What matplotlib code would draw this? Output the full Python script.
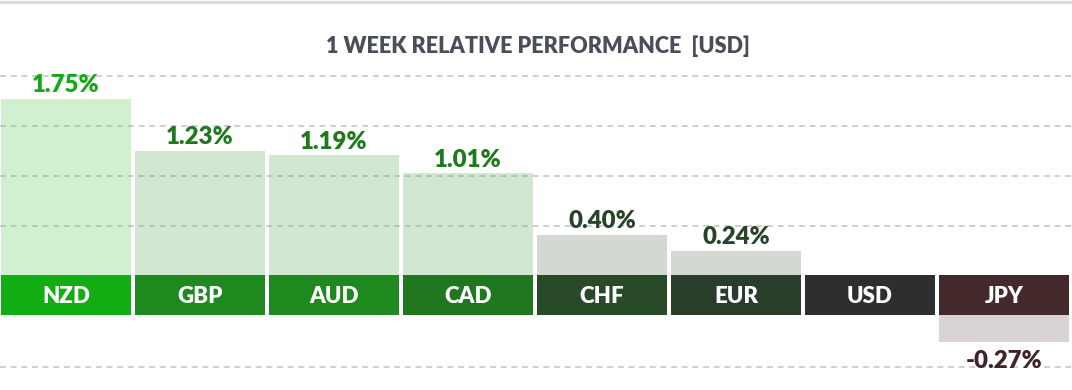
import matplotlib
matplotlib.use('Agg')
import matplotlib.pyplot as plt
from matplotlib.lines import Line2D

# data
currencies = ['NZD', 'GBP', 'AUD', 'CAD', 'CHF', 'EUR', 'USD', 'JPY']
changes = [1.75, 1.23, 1.19, 1.01, 0.40, 0.24, 0.00, -0.27]

# colours per currency
band_colors = ['#12ad12', '#1e891e', '#1e891e', '#20771f', '#284a28', '#2a3d2a', '#2e2e2e', '#452a2b']
bar_colors = ['#d0f0d0', '#d2e7d2', '#d2e7d2', '#d2e7d2', '#d3d8d3', '#d3d8d3', '#d6d6d6', '#d9d3d3']
label_colors = ['#14a814', '#1e7a1e', '#1e7a1e', '#1e7a1e', '#284428', '#284428', '#2e2e2e', '#3e2426']

title = '1 WEEK RELATIVE PERFORMANCE  [USD]'

# layout (pixel based, 100 dpi)
W, H = 1072, 390
px_per_pct = 100.7
zero_px = 275          # top of the label band
band = 40 / px_per_pct # label band height in % units
pitch = 134.0
first_center = 66.0
bar_w = 130.0 / pitch
grid_up = [0.489, 0.986, 1.483, 1.979]
grid_down = [-band - 0.513]

plt.rcParams['font.family'] = ['Lato', 'DejaVu Sans']
weight = 'heavy'

fig = plt.figure(figsize=(W / 100, H / 100), dpi=100)
ax = fig.add_axes([0, 0, 1, 1])
ax.set_xlim(-first_center / pitch, (W - first_center) / pitch)
ax.set_ylim(-(H - zero_px) / px_per_pct, zero_px / px_per_pct)
ax.axis('off')

x = list(range(len(currencies)))

# light value bars
for i, v in enumerate(changes):
    if v >= 0:
        ax.bar(i, v, width=bar_w, bottom=0, color=bar_colors[i], zorder=1)
    else:
        ax.bar(i, v, width=bar_w, bottom=-band, color=bar_colors[i], zorder=1)

# gridlines on top of the light bars
for g in grid_up + grid_down:
    ax.axhline(g, color='#a0a0aa', alpha=0.55, lw=1.3, dashes=(3.3, 2.6), zorder=2)

# label band
ax.bar(x, [-band] * len(x), width=bar_w, bottom=0, color=band_colors, zorder=3)
for i, c in enumerate(currencies):
    ax.annotate(c, (i, -band), xytext=(0, 8.4), textcoords='offset points',
                ha='center', va='baseline', color='white', fontsize=16,
                fontweight=weight, zorder=4)

# value labels
for i, v in enumerate(changes):
    if v == 0:
        continue
    txt = '%.2f%%' % v
    if v > 0:
        ax.annotate(txt, (i, v), xytext=(0, 4.8), textcoords='offset points',
                    ha='center', va='baseline', color=label_colors[i],
                    fontsize=17.3, fontweight=weight, zorder=4)
    else:
        ax.annotate(txt, (i, v - band), xytext=(0, -18.7), textcoords='offset points',
                    ha='center', va='baseline', color=label_colors[i],
                    fontsize=17.3, fontweight=weight, zorder=4)

fig.text(538 / W, 1 - 53.3 / H, title, ha='center', va='baseline',
         color='#4a4e5a', fontsize=15.6, fontweight=weight)

# thin grey border along the top
fig.add_artist(Line2D([0, 1], [1 - 1.5 / H, 1 - 1.5 / H], transform=fig.transFigure,
                      color='#dcdcdc', lw=2.2))

fig.savefig('out.png', dpi=100)
